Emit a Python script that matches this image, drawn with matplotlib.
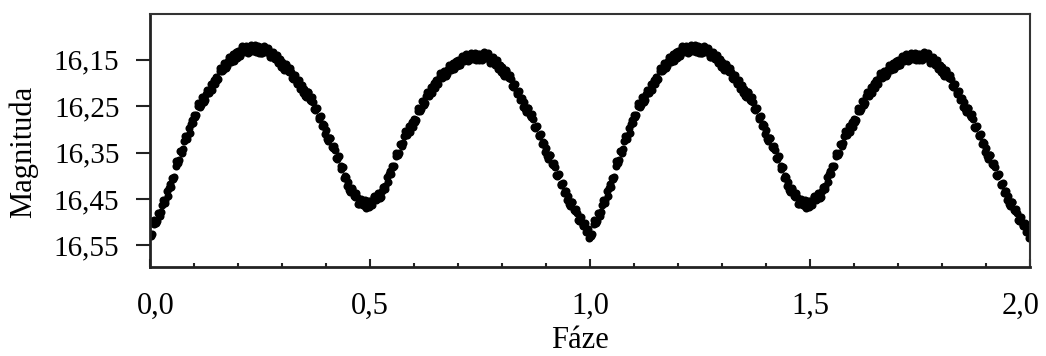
import matplotlib
matplotlib.use("Agg")
import matplotlib.pyplot as plt
import matplotlib.transforms as mtransforms
from matplotlib.ticker import MultipleLocator
import numpy as np

plt.rcParams['font.family'] = ['Liberation Serif', 'DejaVu Serif']

# Phased light curve, one cycle (plotted at phase and phase+1)
phase_a = [
    0.003, 0.008, 0.013, 0.018, 0.023, 0.028, 0.033, 0.038, 0.043, 0.048,
    0.053, 0.058, 0.063, 0.068, 0.073, 0.078, 0.083, 0.088, 0.093, 0.098,
    0.103, 0.108, 0.113, 0.118, 0.123, 0.128, 0.133, 0.138, 0.143, 0.148,
    0.153, 0.158, 0.163, 0.168, 0.173, 0.178, 0.183, 0.188, 0.193, 0.198,
    0.203, 0.208, 0.213, 0.218, 0.223, 0.228, 0.233, 0.238, 0.243, 0.248,
    0.253, 0.258, 0.263, 0.268, 0.273, 0.278, 0.283, 0.288, 0.293, 0.298,
    0.303, 0.308, 0.313, 0.318, 0.323, 0.328, 0.333, 0.338, 0.343, 0.348,
    0.353, 0.358, 0.363, 0.368, 0.373, 0.378, 0.383, 0.388, 0.393, 0.398,
    0.403, 0.408, 0.413, 0.418, 0.423, 0.428, 0.433, 0.438, 0.443, 0.448,
    0.453, 0.458, 0.463, 0.468, 0.473, 0.478, 0.483, 0.488, 0.493, 0.498,
    0.503, 0.508, 0.513, 0.518, 0.523, 0.528, 0.533, 0.538, 0.543, 0.548,
    0.553, 0.558, 0.563, 0.568, 0.573, 0.578, 0.583, 0.588, 0.593, 0.598,
    0.603, 0.608, 0.613, 0.618, 0.623, 0.628, 0.633, 0.638, 0.643, 0.648,
    0.653, 0.658, 0.663, 0.668, 0.673, 0.678, 0.683, 0.688, 0.693, 0.698,
    0.703, 0.708, 0.713, 0.718, 0.723, 0.728, 0.733, 0.738, 0.743, 0.748,
    0.753, 0.758, 0.763, 0.768, 0.773, 0.778, 0.783, 0.788, 0.793, 0.798,
    0.803, 0.808, 0.813, 0.818, 0.823, 0.828, 0.833, 0.838, 0.843, 0.848,
    0.853, 0.858, 0.863, 0.868, 0.873, 0.878, 0.883, 0.888, 0.893, 0.898,
    0.903, 0.908, 0.913, 0.918, 0.923, 0.928, 0.933, 0.938, 0.943, 0.948,
    0.953, 0.958, 0.963, 0.968, 0.973, 0.978, 0.983, 0.988, 0.993, 0.998,
]
magnitude_a = [
    16.530, 16.504, 16.502, 16.480, 16.486, 16.463, 16.458, 16.433, 16.427, 16.424,
    16.407, 16.378, 16.373, 16.347, 16.350, 16.326, 16.320, 16.296, 16.289, 16.286,
    16.273, 16.250, 16.251, 16.231, 16.241, 16.223, 16.222, 16.202, 16.200, 16.202,
    16.193, 16.173, 16.175, 16.157, 16.168, 16.152, 16.154, 16.138, 16.140, 16.146,
    16.141, 16.125, 16.132, 16.119, 16.135, 16.124, 16.130, 16.118, 16.125, 16.136,
    16.135, 16.123, 16.134, 16.124, 16.144, 16.138, 16.148, 16.140, 16.150, 16.165,
    16.168, 16.160, 16.174, 16.168, 16.190, 16.186, 16.199, 16.193, 16.206, 16.222,
    16.227, 16.220, 16.236, 16.231, 16.257, 16.256, 16.273, 16.272, 16.289, 16.310,
    16.320, 16.318, 16.337, 16.335, 16.361, 16.360, 16.380, 16.382, 16.401, 16.422,
    16.431, 16.427, 16.444, 16.438, 16.460, 16.454, 16.464, 16.453, 16.459, 16.468,
    16.463, 16.447, 16.453, 16.437, 16.449, 16.433, 16.429, 16.403, 16.397, 16.396,
    16.382, 16.358, 16.356, 16.331, 16.336, 16.315, 16.312, 16.292, 16.291, 16.294,
    16.283, 16.260, 16.260, 16.239, 16.247, 16.229, 16.228, 16.208, 16.207, 16.210,
    16.202, 16.184, 16.189, 16.173, 16.185, 16.170, 16.172, 16.156, 16.158, 16.164,
    16.160, 16.145, 16.152, 16.138, 16.153, 16.142, 16.148, 16.135, 16.141, 16.151,
    16.149, 16.137, 16.147, 16.136, 16.156, 16.149, 16.159, 16.151, 16.162, 16.177,
    16.180, 16.173, 16.188, 16.182, 16.207, 16.205, 16.220, 16.217, 16.232, 16.251,
    16.257, 16.253, 16.270, 16.267, 16.294, 16.294, 16.312, 16.311, 16.328, 16.349,
    16.358, 16.355, 16.374, 16.372, 16.399, 16.399, 16.417, 16.416, 16.433, 16.453,
    16.460, 16.456, 16.474, 16.471, 16.496, 16.493, 16.507, 16.502, 16.516, 16.534,
]
phase_b = [
    0.000, 0.005, 0.010, 0.015, 0.020, 0.025, 0.030, 0.035, 0.040, 0.045,
    0.050, 0.055, 0.060, 0.065, 0.070, 0.075, 0.080, 0.085, 0.090, 0.095,
    0.100, 0.105, 0.110, 0.115, 0.120, 0.125, 0.130, 0.135, 0.140, 0.145,
    0.150, 0.155, 0.160, 0.165, 0.170, 0.175, 0.180, 0.185, 0.190, 0.195,
    0.200, 0.205, 0.210, 0.215, 0.220, 0.225, 0.230, 0.235, 0.240, 0.245,
    0.250, 0.255, 0.260, 0.265, 0.270, 0.275, 0.280, 0.285, 0.290, 0.295,
    0.300, 0.305, 0.310, 0.315, 0.320, 0.325, 0.330, 0.335, 0.340, 0.345,
    0.350, 0.355, 0.360, 0.365, 0.370, 0.375, 0.380, 0.385, 0.390, 0.395,
    0.400, 0.405, 0.410, 0.415, 0.420, 0.425, 0.430, 0.435, 0.440, 0.445,
    0.450, 0.455, 0.460, 0.465, 0.470, 0.475, 0.480, 0.485, 0.490, 0.495,
    0.500, 0.505, 0.510, 0.515, 0.520, 0.525, 0.530, 0.535, 0.540, 0.545,
    0.550, 0.555, 0.560, 0.565, 0.570, 0.575, 0.580, 0.585, 0.590, 0.595,
    0.600, 0.605, 0.610, 0.615, 0.620, 0.625, 0.630, 0.635, 0.640, 0.645,
    0.650, 0.655, 0.660, 0.665, 0.670, 0.675, 0.680, 0.685, 0.690, 0.695,
    0.700, 0.705, 0.710, 0.715, 0.720, 0.725, 0.730, 0.735, 0.740, 0.745,
    0.750, 0.755, 0.760, 0.765, 0.770, 0.775, 0.780, 0.785, 0.790, 0.795,
    0.800, 0.805, 0.810, 0.815, 0.820, 0.825, 0.830, 0.835, 0.840, 0.845,
    0.850, 0.855, 0.860, 0.865, 0.870, 0.875, 0.880, 0.885, 0.890, 0.895,
    0.900, 0.905, 0.910, 0.915, 0.920, 0.925, 0.930, 0.935, 0.940, 0.945,
    0.950, 0.955, 0.960, 0.965, 0.970, 0.975, 0.980, 0.985, 0.990, 0.995,
]
magnitude_b = [
    16.526, 16.526, 16.496, 16.497, 16.482, 16.479, 16.452, 16.452, 16.444, 16.418,
    16.406, 16.402, 16.369, 16.366, 16.347, 16.342, 16.314, 16.314, 16.307, 16.280,
    16.268, 16.270, 16.243, 16.247, 16.234, 16.236, 16.214, 16.218, 16.214, 16.193,
    16.186, 16.191, 16.167, 16.172, 16.160, 16.164, 16.144, 16.152, 16.152, 16.134,
    16.131, 16.141, 16.121, 16.131, 16.124, 16.132, 16.117, 16.129, 16.134, 16.121,
    16.123, 16.136, 16.120, 16.134, 16.131, 16.144, 16.133, 16.149, 16.157, 16.148,
    16.154, 16.171, 16.159, 16.176, 16.176, 16.191, 16.182, 16.201, 16.212, 16.205,
    16.212, 16.230, 16.219, 16.238, 16.240, 16.259, 16.254, 16.277, 16.292, 16.290,
    16.302, 16.325, 16.319, 16.340, 16.345, 16.363, 16.358, 16.385, 16.404, 16.402,
    16.414, 16.436, 16.428, 16.446, 16.447, 16.460, 16.450, 16.464, 16.470, 16.455,
    16.454, 16.463, 16.443, 16.451, 16.442, 16.445, 16.424, 16.423, 16.414, 16.389,
    16.378, 16.379, 16.351, 16.350, 16.332, 16.330, 16.304, 16.308, 16.305, 16.284,
    16.278, 16.280, 16.253, 16.255, 16.241, 16.242, 16.220, 16.224, 16.221, 16.200,
    16.194, 16.201, 16.179, 16.186, 16.177, 16.181, 16.162, 16.170, 16.170, 16.153,
    16.150, 16.160, 16.141, 16.150, 16.143, 16.151, 16.135, 16.147, 16.151, 16.137,
    16.138, 16.151, 16.134, 16.147, 16.143, 16.155, 16.144, 16.160, 16.169, 16.160,
    16.166, 16.184, 16.172, 16.190, 16.191, 16.208, 16.202, 16.223, 16.237, 16.232,
    16.241, 16.262, 16.253, 16.273, 16.277, 16.296, 16.292, 16.315, 16.331, 16.329,
    16.341, 16.363, 16.356, 16.377, 16.382, 16.401, 16.397, 16.421, 16.437, 16.433,
    16.444, 16.465, 16.457, 16.477, 16.481, 16.497, 16.490, 16.509, 16.521, 16.515,
]
n_cycles = 2

x_ticks = [0.0, 0.5, 1.0, 1.5, 2.0]
x_ticklabels = ["0,0", "0,5", "1,0", "1,5", "2,0"]
y_ticks = [16.15, 16.25, 16.35, 16.45, 16.55]
y_ticklabels = ["16,15", "16,25", "16,35", "16,45", "16,55"]
x_label = "Fáze"
y_label = "Magnituda"

fig = plt.figure(figsize=(10.46, 3.56), dpi=100)
ax = fig.add_axes([150 / 1046, 1 - 267 / 356, 880 / 1046, 253 / 356])

ph = np.concatenate([phase_a, phase_b])
mg = np.concatenate([magnitude_a, magnitude_b])
for c in range(n_cycles):
    ax.plot(ph + c, mg, linestyle='none', marker='o', markersize=5.8,
            color='black', markeredgewidth=0)

ax.set_xlim(0.0, 2.0)
ax.set_ylim(16.597, 16.051)

ax.set_xticks(x_ticks)
ax.set_xticklabels(x_ticklabels, fontsize=22)
ax.xaxis.set_minor_locator(MultipleLocator(0.1))
ax.set_yticks(y_ticks)
ax.set_yticklabels(y_ticklabels, fontsize=21)

ax.tick_params(axis='x', which='major', direction='in', length=6, width=1.5,
               color='#222222', pad=18)
ax.tick_params(axis='x', which='minor', direction='in', length=3, width=1.5,
               color='#222222')
ax.tick_params(axis='y', which='major', direction='out', length=10, width=1.5,
               color='#222222', pad=12)
ax.tick_params(top=False, right=False)

for side in ['left', 'bottom']:
    ax.spines[side].set_linewidth(2.0)
    ax.spines[side].set_color('#222222')
for side in ['top', 'right']:
    ax.spines[side].set_linewidth(1.5)
    ax.spines[side].set_color('#333333')

# nudge end labels inward as in the reference
labels = ax.get_xticklabels()
labels[0].set_transform(labels[0].get_transform() +
                        mtransforms.ScaledTranslation(6 / 100, 0, fig.dpi_scale_trans))
labels[-1].set_transform(labels[-1].get_transform() +
                         mtransforms.ScaledTranslation(-9 / 100, 0, fig.dpi_scale_trans))

fig.text(580 / 1046, 1 - 340 / 356, x_label, fontsize=22, ha='center', va='center')
fig.text(23 / 1046, 1 - 152 / 356, y_label, fontsize=22, ha='center', va='center',
         rotation=90)

fig.savefig("out.png", dpi=100, facecolor='white')
